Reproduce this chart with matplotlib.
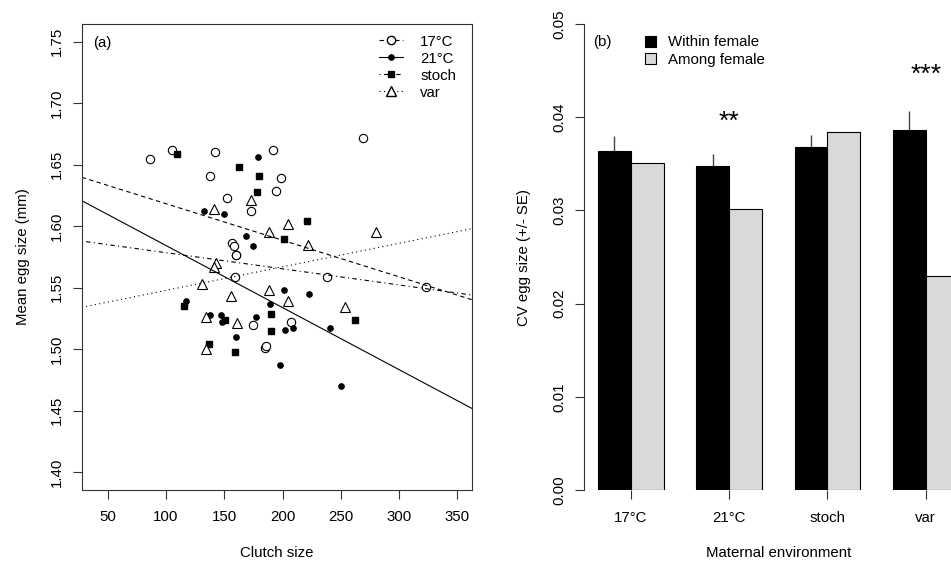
import numpy as np
import matplotlib
matplotlib.use("Agg")
import matplotlib.pyplot as plt
from matplotlib.lines import Line2D
from matplotlib.patches import Patch

plt.rcParams['font.family'] = ['Liberation Sans', 'DejaVu Sans']
plt.rcParams['font.size'] = 10.8

# ---- panel (a): clutch size vs mean egg size, one group per maternal environment
x_17 = [86, 105, 138, 142, 152, 173, 192, 199, 194, 157, 158, 160, 160, 159, 175, 185, 186, 207, 238, 269, 323]
y_17 = [1.655, 1.662, 1.641, 1.660, 1.623, 1.612, 1.662, 1.639, 1.629, 1.586, 1.584, 1.577, 1.577, 1.559,
        1.520, 1.501, 1.503, 1.522, 1.559, 1.672, 1.551]

x_21 = [133, 150, 179, 169, 175, 117, 138, 147, 148, 177, 160, 189, 201, 223, 202, 209, 198, 241, 250]
y_21 = [1.612, 1.610, 1.656, 1.592, 1.584, 1.539, 1.528, 1.528, 1.522, 1.526, 1.510, 1.537, 1.548, 1.545,
        1.516, 1.517, 1.487, 1.517, 1.470]

x_stoch = [109, 163, 180, 178, 221, 201, 115, 151, 137, 159, 190, 190, 262]
y_stoch = [1.659, 1.648, 1.641, 1.628, 1.604, 1.590, 1.535, 1.524, 1.504, 1.498, 1.529, 1.515, 1.524]

x_var = [141, 173, 205, 188, 222, 280, 143, 141, 131, 156, 188, 205, 134, 161, 254, 134]
y_var = [1.614, 1.621, 1.602, 1.595, 1.585, 1.595, 1.570, 1.567, 1.553, 1.543, 1.548, 1.539, 1.526, 1.521,
         1.534, 1.500]

# regression lines (intercept, slope)
fit_17 = (1.6480, -0.000297)
fit_21 = (1.6347, -0.000504)
fit_stoch = (1.5916, -0.000131)
fit_var = (1.5288, 0.000191)

# ---- panel (b): CV of egg size
envs = ['17°C', '21°C', 'stoch', 'var']
cv_within = [0.03636, 0.03477, 0.03677, 0.03858]
cv_within_se = [0.00160, 0.00127, 0.00131, 0.00204]
cv_among = [0.03508, 0.03012, 0.03846, 0.02292]
stars = ['', '**', '', '***']
star_y = [0.0, 0.0395, 0.0, 0.0445]

axc = '#333333'
W, H = 951, 562
fig = plt.figure(figsize=(W / 100, H / 100), dpi=100)

# ---------------- panel (a)
a_top, a_bot = 24.4, 489.6
ax = fig.add_axes([81.7 / W, 1 - a_bot / H, 390 / W, (a_bot - a_top) / H])
xlim = (27.6, 362.4)
ax.set_xlim(*xlim)
ax.set_ylim(1.386, 1.764)

ax.plot(x_17, y_17, ls='none', marker='o', ms=6, mfc='white', mec='black', mew=0.8)
ax.plot(x_21, y_21, ls='none', marker='o', ms=3.8, color='black')
ax.plot(x_stoch, y_stoch, ls='none', marker='s', ms=4, color='black')
ax.plot(x_var, y_var, ls='none', marker='^', ms=7, mfc='white', mec='black', mew=0.8)

styles = {
    '17': (0, (4, 3)),
    '21': '-',
    'stoch': (0, (1, 3, 4, 3)),
    'var': (0, (1, 3)),
}
xs = np.array(xlim)
for key, (b, m) in zip(['17', '21', 'stoch', 'var'], [fit_17, fit_21, fit_stoch, fit_var]):
    ax.plot(xs, b + m * xs, color='black', lw=0.8, ls=styles[key])

ax.set_xticks(np.arange(50, 351, 50))
ax.set_yticks(np.arange(1.40, 1.751, 0.05))
ax.set_yticklabels([f'{v:.2f}' for v in np.arange(1.40, 1.751, 0.05)], rotation=90, va='center')
ax.set_xlabel('Clutch size', labelpad=15.5)
ax.set_ylabel('Mean egg size (mm)', labelpad=15)
for s in ax.spines.values():
    s.set_color(axc)
    s.set_linewidth(0.8)
ax.tick_params(direction='out', length=6.5, width=0.8, color=axc)
ax.tick_params(axis='x', pad=8.5)
ax.tick_params(axis='y', pad=6)
ax.text(0.029, 1 - (43 - a_top) / (a_bot - a_top), '(a)', transform=ax.transAxes, va='center', ha='left')

handles = [
    Line2D([], [], color='black', lw=0.8, ls=styles['17'], marker='o', ms=6, mfc='white', mec='black'),
    Line2D([], [], color='black', lw=0.8, ls=styles['21'], marker='o', ms=3.8),
    Line2D([], [], color='black', lw=0.8, ls=styles['stoch'], marker='s', ms=4),
    Line2D([], [], color='black', lw=0.8, ls=styles['var'], marker='^', ms=7, mfc='white', mec='black'),
]
ax.legend(handles, ['17°C', '21°C', 'stoch', 'var'], loc='upper left',
          bbox_to_anchor=((379 - 81.7) / 390, 1 - (34.7 - a_top) / (a_bot - a_top)),
          frameon=False, borderpad=0, borderaxespad=0, handlelength=1.6,
          handletextpad=1.15, labelspacing=0.2)

# ---------------- panel (b)
b_top, b_bot = 24.0, 490.0
bx = fig.add_axes([583.6 / W, 1 - b_bot / H, 389.4 / W, (b_bot - b_top) / H])
centers = np.array([2 + 3 * i for i in range(len(envs))], dtype=float)
bx.bar(centers - 0.5, cv_within, width=1, color='black', edgecolor='black', lw=0.8)
bx.bar(centers + 0.5, cv_among, width=1, color='#d9d9d9', edgecolor='black', lw=0.8)
bx.vlines(centers - 0.5, cv_within, np.array(cv_within) + np.array(cv_within_se), color='#444444', lw=1)
for c, s, y in zip(centers, stars, star_y):
    if s:
        bx.text(c, y, s, ha='center', va='center', fontsize=19)
bx.set_xlim(0.56, 12.44)
bx.set_ylim(0, 0.05)
bx.set_xticks(centers)
bx.set_xticklabels(envs)
bx.set_yticks(np.arange(0, 0.051, 0.01))
bx.set_yticklabels([f'{v:.2f}' for v in np.arange(0, 0.051, 0.01)], rotation=90, va='center')
for k in ['top', 'right', 'bottom']:
    bx.spines[k].set_visible(False)
bx.spines['left'].set_color(axc)
bx.spines['left'].set_linewidth(0.8)
bx.tick_params(direction='out', length=6.5, width=0.8, color=axc)
bx.tick_params(axis='x', pad=8.5)
bx.tick_params(axis='y', pad=6)
bx.set_xlabel('Maternal environment', labelpad=15.5)
bx.set_ylabel('CV egg size (+/- SE)', labelpad=15.5)
bx.text((593 - 583.6) / 389.4, 1 - (42.3 - b_top) / (b_bot - b_top), '(b)', transform=bx.transAxes,
        va='center', ha='left')
bx.legend([Patch(facecolor='black', edgecolor='black', lw=0.8),
           Patch(facecolor='#d9d9d9', edgecolor='black', lw=0.8)],
          ['Within female', 'Among female'], loc='upper left',
          bbox_to_anchor=((644.5 - 583.6) / 389.4, 1 - (35.3 - b_top) / (b_bot - b_top)),
          frameon=False, borderpad=0, borderaxespad=0, handlelength=0.75, handleheight=0.75,
          handletextpad=0.85, labelspacing=0.25)

fig.savefig('out.png', dpi=100)
